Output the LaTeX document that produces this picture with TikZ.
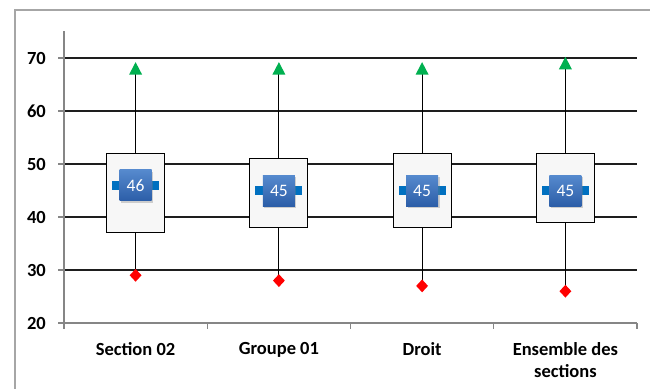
\documentclass[tikz,border=0pt]{standalone}
\usepackage{fontspec}
\setmainfont{Carlito}
\usetikzlibrary{shapes.geometric,shadows}
\definecolor{framec}{RGB}{166,166,166}
\definecolor{axisc}{RGB}{134,134,134}
\definecolor{gridc}{RGB}{30,30,30}
\definecolor{boxfill}{RGB}{247,247,247}
\definecolor{medblue}{RGB}{0,112,192}
\definecolor{labtop}{RGB}{86,138,206}
\definecolor{labbot}{RGB}{44,94,168}
\definecolor{maxgreen}{RGB}{0,176,80}
\definecolor{minred}{RGB}{255,0,0}
\tikzset{
  boxst/.style={draw=black, line width=1.1pt, fill=boxfill, minimum width=58pt, inner sep=0pt},
  medbar/.style={fill=medblue, minimum width=47pt, minimum height=9pt, inner sep=0pt},
  medlab/.style={top color=labtop, bottom color=labbot, minimum width=32pt, minimum height=31pt, inner sep=0pt,
    text=white, font=\fontsize{17.5}{19}\selectfont,
    drop shadow={opacity=0.35, shadow xshift=1.5pt, shadow yshift=-2pt}},
  minmark/.style={diamond, fill=minred, minimum width=12pt, minimum height=13pt, inner sep=0pt},
  whisk/.style={draw=black, line width=1pt},
  gridl/.style={draw=gridc, line width=1.2pt},
  axisl/.style={draw=axisc, line width=1.2pt},
  ylab/.style={anchor=east, inner sep=0pt, font=\bfseries\fontsize{18.5}{21}\selectfont},
  catlab/.style={anchor=north, inner sep=0pt, align=center, font=\bfseries\fontsize{18.5}{22}\selectfont},
  declare function={Y(\v)=323-(\v-20)*5.3;}
}
\begin{document}
\begin{tikzpicture}[x=1pt,y=-1pt]
\useasboundingbox (0,0) rectangle (650,388);
\fill[white] (0,0) rectangle (650,388);
% outer frame
\draw[framec, line width=2pt] (15,400) -- (15,10) -- (660,10);
% grid lines
\foreach \v in {30,40,50,60,70} {
  \draw[gridl] (64,{Y(\v)}) -- (637,{Y(\v)});
}
% axes
\draw[axisl] (64,31) -- (64,{Y(20)}) -- (637,{Y(20)});
\foreach \v in {20,30,40,50,60,70} {
  \draw[axisl] (58,{Y(\v)}) -- (64,{Y(\v)});
  \node[ylab] (yl\v) at (46,{Y(\v)}) {\v};
}
\foreach \x in {64,207.25,350.5,493.75,637} {
  \draw[axisl] (\x,{Y(20)}) -- (\x,{Y(20)+6});
}
% boxes
\foreach \i/\cx/\hi/\lo/\med/\mx/\mn/\lab in {
  1/135.6/52/37/46/68/29/{Section 02},
  2/278.9/51/38/45/68/28/{Groupe 01},
  3/422.1/52/38/45/68/27/{Droit},
  4/565.4/52/39/45/69/26/{Ensemble des\\sections}} {
  \coordinate (max\i) at (\cx,{Y(\mx)});
  \coordinate (minc\i) at (\cx,{Y(\mn)});
  \node[boxst, minimum height={(\hi-\lo)*5.3}] (box\i) at (\cx,{Y((\hi+\lo)/2)}) {};
  \draw[whisk] (box\i.north) -- (max\i);
  \draw[whisk] (box\i.south) -- (minc\i);
  \node[medbar] (bar\i) at (\cx,{Y(\med)}) {};
  \node[medlab] (lab\i) at (bar\i.center) {\med};
  \fill[maxgreen] (max\i) ++(0,-6.5) -- ++(6.5,12.5) -- ++(-13,0) -- cycle;
  \node[minmark] (min\i) at (minc\i) {};
  \node[catlab] (cat\i) at (\cx,342) {\lab};
}
\end{tikzpicture}
\end{document}
